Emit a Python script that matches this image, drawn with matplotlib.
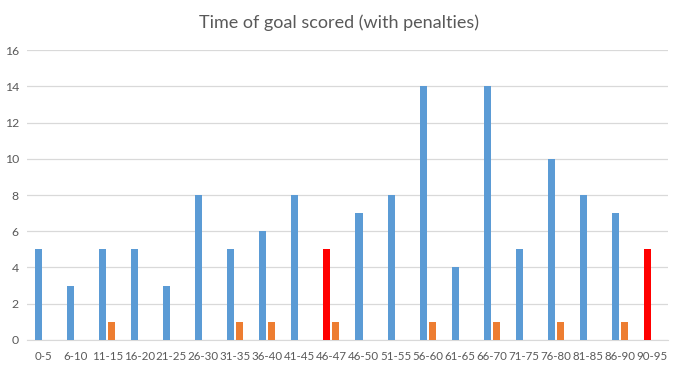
import numpy as np
from matplotlib import pyplot as plt

plt.rcParams['font.family'] = ['Lato', 'DejaVu Sans']

intervals = ['0-5', '6-10', '11-15', '16-20', '21-25', '26-30', '31-35', '36-40',
             '41-45', '46-47', '46-50', '51-55', '56-60', '61-65', '66-70', '71-75',
             '76-80', '81-85', '86-90', '90-95']
goals = [5, 3, 5, 5, 3, 8, 5, 6, 8, 5, 7, 8, 14, 4, 14, 5, 10, 8, 7, 5]
penalties = [0, 0, 1, 0, 0, 0, 1, 1, 0, 1, 0, 0, 1, 0, 1, 0, 1, 0, 1, 0]
stoppage = ['46-47', '90-95']

blue = '#5B9BD5'
orange = '#ED7D31'
red = '#FF0000'
grey = '#595959'

goal_colors = [red if c in stoppage else blue for c in intervals]

fig = plt.figure(figsize=(6.78, 3.69), dpi=100)
ax = fig.add_axes([0.04, 0.079, 0.945, 0.785])

x = np.arange(len(intervals))
w = 0.22
ax.bar(x - 0.14, goals, w, color=goal_colors, zorder=3)
ax.bar(x + 0.14, penalties, w, color=orange, zorder=3)

ax.set_xlim(-0.5, len(intervals) - 0.5)
ax.set_ylim(0, 16)
ax.set_yticks(range(0, 17, 2))
ax.set_xticks(x)
ax.set_xticklabels(intervals)
ax.grid(axis='y', color='#D9D9D9', linewidth=0.9, zorder=0)
for s in ['top', 'right', 'left']:
    ax.spines[s].set_visible(False)
ax.spines['bottom'].set_color('#D9D9D9')
ax.tick_params(length=0, colors=grey)
ax.tick_params(axis='y', labelsize=8.8, pad=6)
ax.tick_params(axis='x', labelsize=8.3, pad=8)

fig.suptitle('Time of goal scored (with penalties)', x=0.5, y=0.96,
             fontsize=13, color=grey)

plt.savefig('out.png')
